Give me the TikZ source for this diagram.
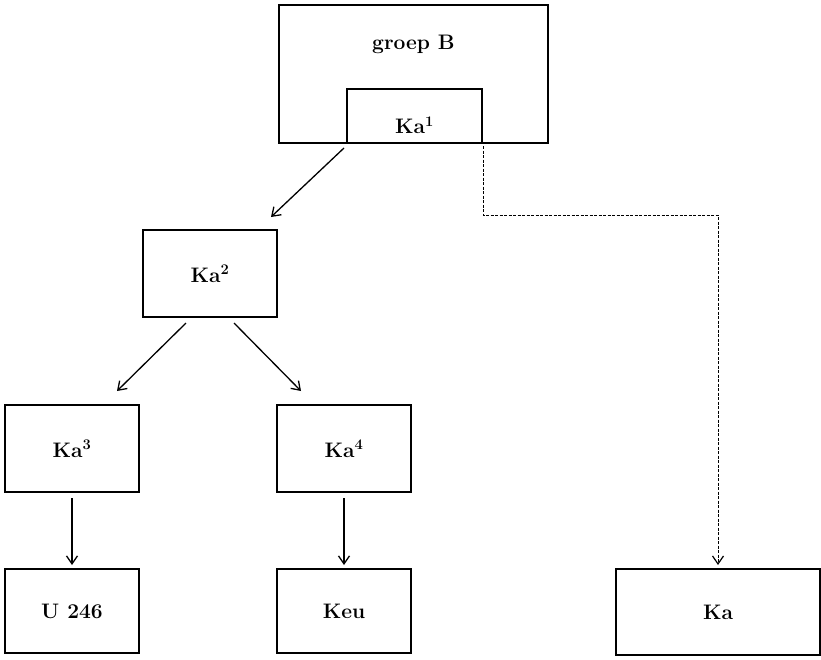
\documentclass[tikz,border=0pt]{standalone}
\usepackage{fontspec}
\usetikzlibrary{arrows.meta}
\begin{document}
\begin{tikzpicture}[x=1pt,y=-1pt,
  lbl/.style={font=\fontsize{21}{24}\selectfont\bfseries},
  box/.style={draw,line width=2pt,inner sep=0pt,lbl},
  arr/.style={line width=1.3pt,-{Straight Barb[length=8pt,width=11pt,line width=1.3pt]}},
  darr/.style={line width=0.9pt,dash pattern=on 3pt off 1.5pt,-{Straight Barb[length=8pt,width=11pt,line width=1.2pt]}}]
\useasboundingbox (0,0) rectangle (821,659);
% outer group box with its inner box on the bottom edge
\node[box,minimum width=269pt,minimum height=138pt] (grp) at (413.5,74) {};
\node[lbl] (grplbl) at (413.5,44) {groep B};
\node[box,minimum width=135pt,minimum height=54pt] (ka1) at (414.5,116) {};
\node[lbl] (ka1lbl) at (414.5,125) {Ka\textsuperscript{1}};
% second level
\node[box,minimum width=134pt,minimum height=87pt] (ka2) at (210,273.5) {Ka\textsuperscript{2}};
% third level
\node[box,minimum width=134pt,minimum height=87pt] (ka3) at (72,448.5) {Ka\textsuperscript{3}};
\node[box,minimum width=134pt,minimum height=87pt] (ka4) at (344,448.5) {Ka\textsuperscript{4}};
% bottom row
\node[box,minimum width=134pt,minimum height=84pt] (u) at (72,611) {U 246};
\node[box,minimum width=134pt,minimum height=84pt] (keu) at (344,611) {Keu};
\node[box,minimum width=204pt,minimum height=86pt] (ka) at (718,612) {Ka};
% connectors
\draw[arr] ([shift={(-2,4)}]ka1.south west) -- ([shift={(-7,-12)}]ka2.north east);
\draw[arr] ([shift={(44,5)}]ka2.south west) -- ([shift={(-23,-13)}]ka3.north east);
\draw[arr] ([shift={(-44,5)}]ka2.south east) -- ([shift={(25,-13)}]ka4.north west);
\draw[arr] ([shift={(0,5)}]ka3.south) -- ([shift={(0,-3)}]u.north);
\draw[arr] ([shift={(0,5)}]ka4.south) -- ([shift={(0,-3)}]keu.north);
\draw[darr] ([shift={(0,2)}]ka1.south east) -- ++(0,69) -| ([shift={(0,-3)}]ka.north);
\end{tikzpicture}
\end{document}
